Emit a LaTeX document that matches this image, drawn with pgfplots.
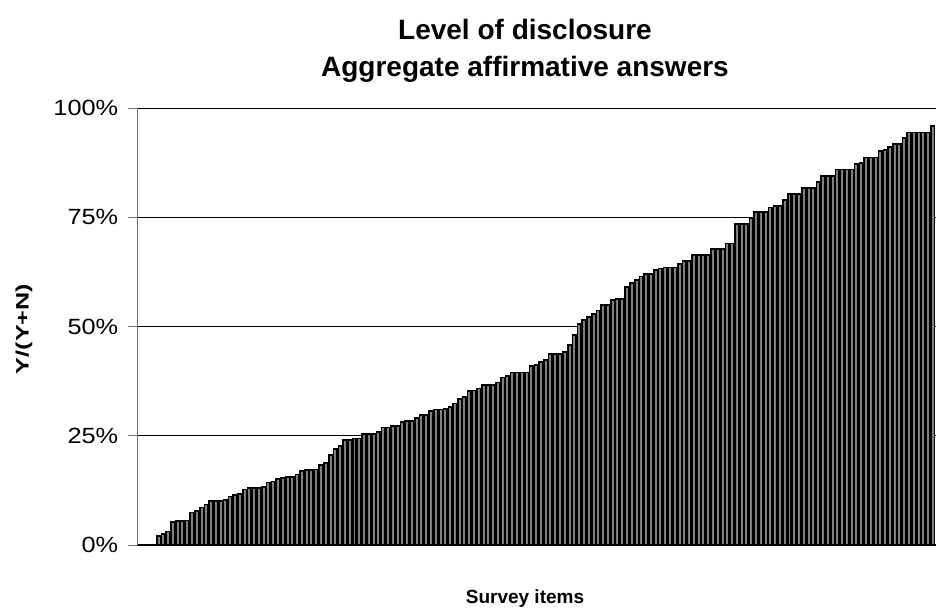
\documentclass[border=0pt]{standalone}
\usepackage{fontspec}
\setmainfont{Liberation Sans}
\usepackage{pgfplots}
\pgfplotsset{compat=1.18}
\begin{document}
\begin{tikzpicture}
\begin{axis}[
  at={(0pt,0pt)}, anchor=south west,
  scale only axis, width=799pt, height=437pt,
  xmin=0.5, xmax=167.65, ymin=0, ymax=100,
  axis x line=bottom, axis y line=left,
  x axis line style={-, black, line width=1.6pt},
  y axis line style={-, black!55, line width=0.8pt},
  xtick=\empty,
  ytick={0,25,50,75,100},
  yticklabel={\pgfmathprintnumber{\tick}\%},
  /pgf/number format/assume math mode=true,
  tick align=outside, major tick length=9pt,
  ytick style={black!55, line width=0.8pt},
  ymajorgrids, major grid style={black, line width=0.8pt},
  yticklabel style={font=\fontsize{22}{24}\selectfont, xscale=1.15, xshift=-5pt},
  ybar, bar width=0.75,
]
\addplot[fill=black!50, draw=black, line width=1.6pt] coordinates {
(5,2.1) (6,2.5) (7,3.1) (8,5.3) (9,5.5) (10,5.5) (11,5.6) (12,7.4) (13,7.8) (14,8.6)
(15,9.3) (16,10.1) (17,10.1) (18,10.1) (19,10.3) (20,11.1) (21,11.4) (22,11.7) (23,12.7) (24,13.0)
(25,13.0) (26,13.1) (27,13.3) (28,14.3) (29,14.5) (30,15.1) (31,15.3) (32,15.6) (33,15.6) (34,16.1)
(35,17.0) (36,17.2) (37,17.2) (38,17.3) (39,18.3) (40,18.7) (41,20.6) (42,21.9) (43,22.7) (44,24.0)
(45,24.0) (46,24.4) (47,24.4) (48,25.4) (49,25.4) (50,25.4) (51,25.9) (52,26.9) (53,26.9) (54,27.2)
(55,27.2) (56,28.1) (57,28.4) (58,28.4) (59,29.1) (60,29.7) (61,29.7) (62,30.7) (63,31.0) (64,31.0)
(65,31.1) (66,31.6) (67,32.4) (68,33.4) (69,33.9) (70,35.2) (71,35.4) (72,35.8) (73,36.6) (74,36.6)
(75,36.6) (76,37.2) (77,38.3) (78,38.7) (79,39.5) (80,39.5) (81,39.5) (82,39.5) (83,41.0) (84,41.2)
(85,41.9) (86,42.3) (87,43.7) (88,43.7) (89,43.7) (90,44.1) (91,45.8) (92,48.1) (93,50.6) (94,51.5)
(95,52.2) (96,52.9) (97,53.7) (98,54.9) (99,54.9) (100,56.1) (101,56.3) (102,56.3) (103,59.1) (104,59.9)
(105,60.6) (106,61.4) (107,62.0) (108,62.0) (109,62.9) (110,63.3) (111,63.5) (112,63.5) (113,63.5) (114,64.3)
(115,65.0) (116,65.0) (117,66.4) (118,66.4) (119,66.4) (120,66.4) (121,67.7) (122,67.7) (123,67.7) (124,69.0)
(125,69.0) (126,73.4) (127,73.4) (128,73.4) (129,74.8) (130,76.2) (131,76.2) (132,76.2) (133,77.2) (134,77.6)
(135,77.6) (136,78.9) (137,80.3) (138,80.3) (139,80.3) (140,81.7) (141,81.7) (142,81.7) (143,83.1) (144,84.5)
(145,84.5) (146,84.5) (147,85.9) (148,85.9) (149,85.9) (150,85.9) (151,87.2) (152,87.4) (153,88.7) (154,88.7)
(155,88.7) (156,90.2) (157,90.4) (158,91.1) (159,91.8) (160,91.8) (161,93.1) (162,94.4) (163,94.4) (164,94.4)
(165,94.4) (166,94.4) (167,95.9)
};
\end{axis}
\node[anchor=base, font=\bfseries\fontsize{28}{30}\selectfont] at (388pt,505pt) {Level of disclosure};
\node[anchor=base, font=\bfseries\fontsize{28}{30}\selectfont] at (388pt,468pt) {Aggregate affirmative answers};
\node[anchor=base, font=\bfseries\fontsize{19}{22}\selectfont] at (388pt,-58pt) {Survey items};
\node[anchor=center, rotate=90, xscale=1.4, font=\bfseries\fontsize{18}{22}\selectfont] at (-113pt,216pt) {Y/(Y+N)};
\pgfresetboundingbox
\path (-137pt,-65pt) rectangle (799pt,545pt);
\end{tikzpicture}
\end{document}
